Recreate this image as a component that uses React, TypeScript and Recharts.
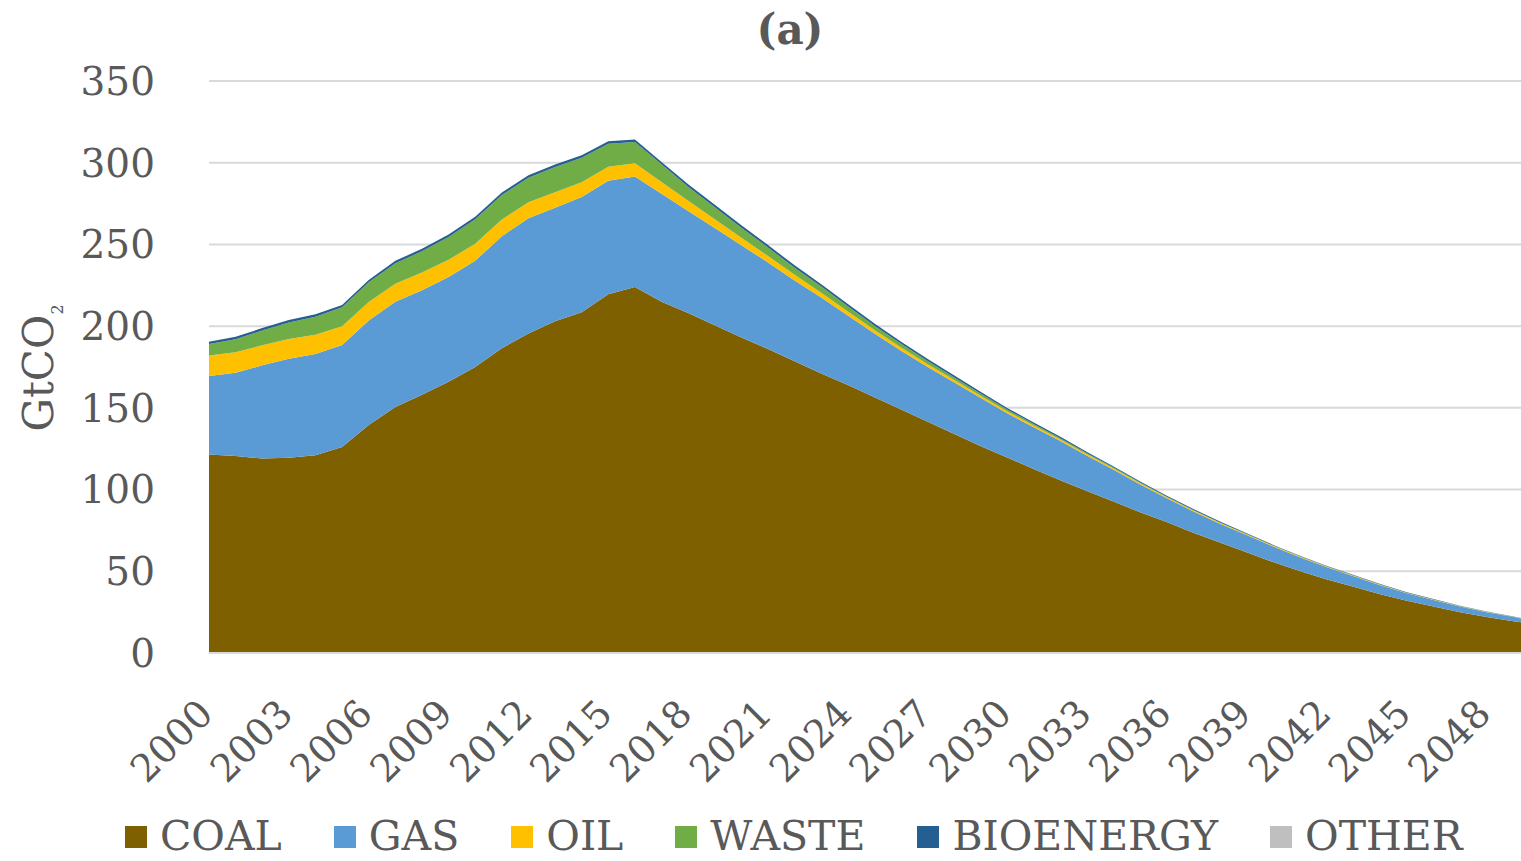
import React from "react";
import { AreaChart, Area, XAxis, YAxis, CartesianGrid, Legend } from "recharts";

const years: number[] = [];
for (let y = 2000; y <= 2050; y++) years.push(y);

const coal = [
  121.5, 120.5, 119, 119.5, 121, 126, 139.5, 150.5, 158, 166, 175, 186.5, 195.5, 203, 208.5, 219.5, 224,
  215, 208, 200.5, 193, 186, 178.5, 171, 164, 156.5, 149, 141.5, 134, 126.5,
  119.5, 112.5, 105.5, 99, 92.5, 86, 80, 73.5, 67.5, 61.5, 55.5, 50, 45, 40.5, 36, 32, 28.5, 25, 22, 19.5, 17,
];
const gas = [
  48, 51, 57, 60.5, 62, 62.5, 64, 64.5, 64, 64, 65, 68.5, 70.5, 69.5, 70.5, 69.5, 67.5,
  66, 62.5, 59.5, 56.5, 53, 49.5, 46.5, 42.5, 39, 36, 33.5, 31.5, 29.5,
  27, 25.5, 24, 21.5, 19.5, 17, 14.5, 13, 11.5, 10.5, 9.5, 8.5, 7.5, 6.5, 5.5, 4.5, 4, 3.5, 3, 2.5, 2,
];
const oil = [
  12.5, 12.5, 12.3, 12.2, 11.8, 11.5, 11.3, 11, 10.8, 10.6, 10.4, 10.2, 9.8, 9.4, 9, 8.6, 8.2,
  7.2, 6.2, 5.4, 4.6, 3.9, 3.4, 3.0, 2.5, 2.1, 1.9, 1.7, 1.5, 1.3,
  1.2, 1.1, 1.0, 0.9, 0.8, 0.7, 0.6, 0.55, 0.5, 0.45, 0.4, 0.35, 0.3, 0.3, 0.25, 0.2, 0.2, 0.15, 0.15, 0.1, 0.1,
];
const waste = [
  7, 8, 9, 10, 11, 11.5, 12, 12.5, 13, 14, 15, 15, 15, 15.5, 15, 14, 13,
  10.8, 8.6, 7.4, 6.1, 5.2, 4.4, 3.8, 3.2, 2.6, 2.3, 1.9, 1.6, 1.3,
  1.1, 0.9, 0.7, 0.6, 0.5, 0.4, 0.4, 0.3, 0.25, 0.2, 0.2, 0.15, 0.15, 0.1, 0.1, 0.1, 0.1, 0.05, 0.05, 0.05, 0.05,
];
const bioenergy = [
  1.5, 1.5, 1.5, 1.5, 1.5, 1.5, 1.5, 1.5, 1.5, 1.5, 1.5, 1.5, 1.5, 1.5, 1.5, 1.5, 1.5,
  1.5, 1.5, 1.5, 1.5, 1.5, 1.4, 1.4, 1.4, 1.4, 1.3, 1.3, 1.2, 1.1,
  1.0, 0.9, 0.9, 0.8, 0.7, 0.7, 0.6, 0.55, 0.5, 0.45, 0.4, 0.4, 0.35, 0.35, 0.3, 0.3, 0.3, 0.25, 0.25, 0.2, 0.2,
];
const other = years.map(() => 0);

const yTicks = [0, 50, 100, 150, 200, 250, 300, 350];

const seriesNames = ["COAL", "GAS", "OIL", "WASTE", "BIOENERGY", "OTHER"];
const seriesKeys = ["coal", "gas", "oil", "waste", "bioenergy", "other"];
const seriesColors = ["#7F6000", "#5B9BD5", "#FFC000", "#70AD47", "#255E91", "#BFBFBF"];
const seriesValues = [coal, gas, oil, waste, bioenergy, other];

const data = years.map((yr, i) => {
  const row: Record<string, number | string> = { year: String(yr) };
  seriesKeys.forEach((k, j) => {
    row[k] = seriesValues[j][i];
  });
  return row;
});

const FONT = "'DejaVu Serif', serif";
const TEXT = "#595959";

const XTick = (props: any) => {
  const { x, y, payload } = props;
  return (
    <g transform={`translate(${x + 6},${y + 63})`}>
      <text textAnchor="end" transform="rotate(-45)" fill={TEXT} fontSize={38} fontFamily={FONT}>
        {payload.value}
      </text>
    </g>
  );
};

const LegendContent = () => (
  <div style={{ display: "flex", alignItems: "center", gap: 52, fontFamily: FONT, fontSize: 41, color: TEXT, lineHeight: "normal", whiteSpace: "nowrap" }}>
    {seriesNames.map((n, i) => (
      <div key={n} style={{ display: "flex", alignItems: "center" }}>
        <span style={{ display: "inline-block", width: 22, height: 22, background: seriesColors[i], marginRight: 13, marginTop: 2 }} />
        <span>{n}</span>
      </div>
    ))}
  </div>
);

export default function App() {
  return (
    <div style={{ position: "absolute", left: 0, top: 0, width: 1521, height: 861, overflow: "hidden", background: "#fff" }}>
      <AreaChart width={1545} height={861} data={data} margin={{ top: 81, right: 5, bottom: 0, left: 0 }}>
        <CartesianGrid vertical={false} stroke="#D9D9D9" strokeWidth={2} />
        <XAxis
          dataKey="year"
          interval={2}
          tickLine={false}
          axisLine={{ stroke: "#D9D9D9", strokeWidth: 2 }}
          tickSize={0}
          tickMargin={0}
          height={208}
          tick={<XTick />}
        />
        <YAxis
          domain={[0, 350]}
          ticks={yTicks}
          width={209}
          axisLine={false}
          tickLine={false}
          tickSize={0}
          tickMargin={54}
          tick={{ fill: TEXT, fontSize: 39, fontFamily: FONT }}
        />
        {seriesKeys.map((k, i) => (
          <Area
            key={k}
            type="linear"
            dataKey={k}
            name={seriesNames[i]}
            stackId="1"
            stroke="none"
            fill={seriesColors[i]}
            fillOpacity={1}
            isAnimationActive={false}
          />
        ))}
        <Legend
          layout="horizontal"
          verticalAlign="middle"
          align="center"
          content={<LegendContent />}
          wrapperStyle={{ left: 125, top: 812, width: 1390, height: 48 }}
        />
      </AreaChart>
      <svg width={1521} height={861} style={{ position: "absolute", left: 0, top: 0, pointerEvents: "none" }}>
        <text x={790} y={44} textAnchor="middle" fontFamily={FONT} fontWeight="bold" fontSize={42} fill={TEXT}>
          (a)
        </text>
        <text transform="translate(53,368) rotate(-90)" textAnchor="middle" fontFamily={FONT} fontSize={42} fill={TEXT}>
          GtCO<tspan fontSize={16} dy={10}>2</tspan>
        </text>
      </svg>
    </div>
  );
}
